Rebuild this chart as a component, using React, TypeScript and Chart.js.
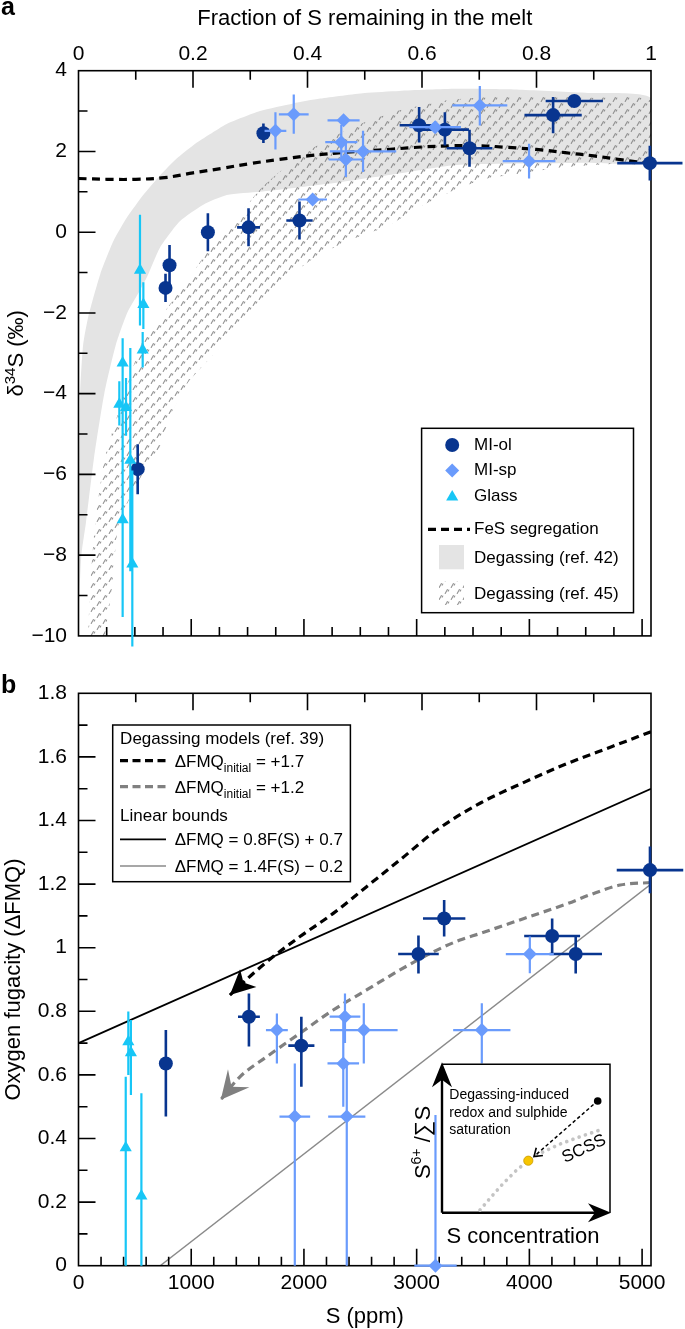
import React, { useEffect, useRef } from 'react';
import { Chart, registerables } from 'chart.js';

Chart.register(...registerables);

const FONT = "'Liberation Sans', Arial, Helvetica, sans-serif";
const DARK = '#08358f';
const LIGHT = '#6a9bfc';
const CYAN = '#17c6f6';
const BAND_GRAY = '#e4e4e4';

const W = 685;
const H_A = 660;
const H_B = 669;
const S_AT_F1 = 5079; // S (ppm) corresponding to fraction 1

// ---------------- Panel a : δ34S vs fraction of S remaining ----------------
const olFrac = [0.323, 0.595, 0.640, 0.683, 0.829, 0.866, 0.998, 0.226, 0.297, 0.386, 0.159, 0.152, 0.1034];
const olD34 = [2.45, 2.65, 2.54, 2.08, 2.90, 3.25, 1.71, 0.0, 0.12, 0.29, -0.82, -1.38, -5.87];
const olFracErr = [0.011, 0.034, 0.042, 0.04, 0.05, 0.05, 0.057, 0.01, 0.02, 0.023, 0.005, 0.005, 0.005];
const olD34Lo = [2.21, 2.22, 2.15, 1.62, 2.45, 3.13, 1.28, -0.47, -0.35, -0.18, -1.32, -1.73, -6.49];
const olD34Hi = [2.69, 3.10, 2.97, 2.54, 3.35, 3.37, 2.14, 0.47, 0.59, 0.76, -0.32, -1.03, -5.25];

const spFrac = [0.344, 0.376, 0.463, 0.459, 0.467, 0.497, 0.409, 0.623, 0.701, 0.787];
const spD34 = [2.51, 2.92, 2.77, 2.23, 1.80, 2.00, 0.81, 2.60, 3.14, 1.76];
const spFracErr = [0.019, 0.026, 0.028, 0.028, 0.03, 0.058, 0.025, 0.045, 0.048, 0.046];
const spD34Lo = [2.05, 2.44, 2.68, 1.80, 1.37, 1.49, 0.76, 2.46, 2.64, 1.33];
const spD34Hi = [2.97, 3.41, 2.86, 2.66, 2.23, 2.51, 0.86, 2.74, 3.62, 2.19];

const glFrac = [0.1074, 0.1133, 0.1121, 0.0771, 0.0713, 0.083, 0.0905, 0.0771, 0.094];
const glD34 = [-0.94, -1.79, -2.92, -3.24, -4.26, -4.34, -5.65, -7.12, -8.22];
const glD34Lo = [-2.31, -2.4, -3.35, -4.7, -4.79, -5.04, -8.4, -9.53, -10.26];
const glD34Hi = [0.43, -1.24, -2.47, -2.63, -3.69, -3.61, -2.87, -4.67, -5.9];

// FeS segregation model
const fesFrac = [0, 0.05, 0.1, 0.15, 0.2, 0.25, 0.3, 0.35, 0.4, 0.45, 0.5, 0.55, 0.6, 0.65, 0.7, 0.75, 0.8, 0.85, 0.9, 0.95, 1];
const fesD34 = [1.33, 1.31, 1.31, 1.35, 1.47, 1.58, 1.70, 1.80, 1.89, 1.96, 2.01, 2.06, 2.11, 2.14, 2.14, 2.10, 2.05, 1.97, 1.89, 1.79, 1.70];

// Degassing envelope (ref. 42)
const g42UpFrac = [0, 0.003, 0.008, 0.017, 0.038, 0.061, 0.084, 0.113, 0.142, 0.171, 0.2, 0.23, 0.259, 0.317, 0.375, 0.422, 0.5, 0.56, 0.66, 0.77, 0.89, 1];
const g42UpD34 = [-7.5, -4.0, -2.8, -2.1, -1.04, -0.22, 0.35, 0.92, 1.4, 1.82, 2.15, 2.43, 2.68, 3.0, 3.19, 3.31, 3.45, 3.5, 3.55, 3.53, 3.45, 3.32];
const g42LoFrac = [0, 0.005, 0.013, 0.027, 0.045, 0.065, 0.085, 0.105, 0.12, 0.142, 0.177, 0.218, 0.259, 0.317, 0.436, 0.557, 0.656, 0.771, 0.887, 1];
const g42LoD34 = [-9.5, -8.0, -7.2, -5.6, -4.0, -2.8, -2.0, -1.5, -1.1, -0.39, 0.27, 0.68, 0.92, 1.0, 1.2, 1.45, 1.66, 1.70, 1.72, 1.78];

// Degassing envelope (ref. 45)
const g45UpFrac = [0.017, 0.02, 0.029, 0.046, 0.081, 0.115, 0.154, 0.2, 0.23, 0.276, 0.32, 0.378, 0.436, 0.493, 0.557, 0.656, 0.771, 0.887, 1];
const g45UpD34 = [-10, -8.87, -7.24, -5.6, -3.97, -2.6, -1.9, -1.0, -0.38, 0.35, 1.1, 1.8, 2.3, 2.68, 3.0, 3.29, 3.37, 3.33, 3.25];
const g45LoFrac = [0.046, 0.058, 0.07, 0.1, 0.128, 0.141, 0.16, 0.191, 0.244, 0.29, 0.35, 0.4, 0.45, 0.5, 0.54, 0.598, 0.656, 0.713, 0.771, 0.829, 0.887, 0.945, 1];
const g45LoD34 = [-10, -8.87, -7.24, -6.3, -5.6, -5.36, -4.55, -3.73, -2.9, -2.1, -1.3, -0.75, -0.35, -0.05, 0.15, 0.64, 1.04, 1.33, 1.45, 1.58, 1.65, 1.70, 1.72];

// ---------------- Panel b : ΔFMQ vs S (ppm) ----------------
const ppmTickValues = [0, 1000, 2000, 3000, 4000, 5000];

const olS = [5070, 3244, 3016, 4202, 4411, 1512, 1977, 775];
const olFmq = [1.244, 1.092, 0.98, 1.037, 0.98, 0.783, 0.692, 0.636];
const olSErr = [295, 188, 180, 248, 233, 97, 116, 0];
const olFmqLo = [1.171, 1.035, 0.919, 0.982, 0.919, 0.689, 0.563, 0.469];
const olFmqHi = [1.318, 1.15, 1.038, 1.092, 1.035, 0.856, 0.783, 0.741];

const spS = [4004, 1760, 2364, 2531, 2349, 2380, 1919, 3578, 3167];
const spFmq = [0.98, 0.741, 0.783, 0.741, 0.636, 0.469, 0.469, 0.741, 0];
const spSErr = [213, 97, 136, 300, 140, 165, 136, 254, 188];
const spFmqLo = [0.92, 0.636, 0.7, 0.636, 0.5, 0, 0, 0.636, 0];
const spFmqHi = [1.035, 0.793, 0.856, 0.825, 0.77, 0.64, 0.636, 0.825, 0.474];

const glS = [442, 465, 419, 558];
const glFmq = [0.704, 0.67, 0.371, 0.219];
const glSErr = [0, 0, 0, 0];
const glFmqLo = [0.6, 0.537, 0, 0];
const glFmqHi = [0.799, 0.773, 0.594, 0.542];

// Degassing models (ref. 39)
const m17S = [5079, 4729, 4341, 3953, 3566, 3178, 2852, 2556, 2260, 1965, 1728, 1550, 1343];
const m17Fmq = [1.679, 1.632, 1.58, 1.52, 1.455, 1.37, 1.276, 1.192, 1.108, 1.035, 0.972, 0.919, 0.851];
const m12S = [5079, 4806, 4535, 4341, 3953, 3566, 3384, 3148, 2852, 2556, 2260, 1965, 1669, 1432, 1262];
const m12Fmq = [1.205, 1.197, 1.166, 1.139, 1.092, 1.045, 1.024, 0.987, 0.93, 0.867, 0.804, 0.731, 0.657, 0.594, 0.522];

// Linear bounds (end points)
const boundS = [0, 5079];
const upperBoundFmq = [0.7, 1.5];
const lowerBoundFmq = [-0.2, 1.2];

// ---------------- helpers ----------------
const pts = (xs: number[], ys: number[]) => xs.map((x, i) => ({ x, y: ys[i] }));

function fmt(v: number): string {
  const r = Math.round(v * 10) / 10;
  return (r < 0 ? '\u2212' : '') + String(Math.abs(r));
}

type Seg = [string, number, number];
function rich(ctx: CanvasRenderingContext2D, segs: Seg[], x: number, y: number, align: 'left' | 'center') {
  let w = 0;
  for (const [t, s] of segs) {
    ctx.font = `${s}px ${FONT}`;
    w += ctx.measureText(t).width;
  }
  let cx = align === 'center' ? x - w / 2 : x;
  ctx.textAlign = 'left';
  ctx.textBaseline = 'alphabetic';
  for (const [t, s, dy] of segs) {
    ctx.font = `${s}px ${FONT}`;
    ctx.fillText(t, cx, y + dy);
    cx += ctx.measureText(t).width;
  }
}

function text(ctx: CanvasRenderingContext2D, s: string, x: number, y: number, size: number, align: CanvasTextAlign = 'left', weight = '') {
  ctx.font = `${weight} ${size}px ${FONT}`.trim();
  ctx.textAlign = align;
  ctx.textBaseline = 'middle';
  ctx.fillStyle = '#000';
  ctx.fillText(s, x, y);
}

function marker(ctx: CanvasRenderingContext2D, style: string, x: number, y: number, r: number, color: string) {
  ctx.beginPath();
  if (style === 'circle') ctx.arc(x, y, r, 0, Math.PI * 2);
  else if (style === 'diamond') {
    ctx.moveTo(x - r, y); ctx.lineTo(x, y - r); ctx.lineTo(x + r, y); ctx.lineTo(x, y + r); ctx.closePath();
  } else {
    ctx.moveTo(x, y - r); ctx.lineTo(x + 0.866 * r, y + 0.5 * r); ctx.lineTo(x - 0.866 * r, y + 0.5 * r); ctx.closePath();
  }
  ctx.fillStyle = color;
  ctx.fill();
}

function dart(ctx: CanvasRenderingContext2D, tx: number, ty: number, ang: number, len: number, half: number, color: string, notch = 0.62) {
  const ux = Math.cos(ang), uy = Math.sin(ang);
  const nx = -uy, ny = ux;
  const bx = tx - ux * len, by = ty - uy * len;
  const mx = tx - ux * len * notch, my = ty - uy * len * notch;
  ctx.beginPath();
  ctx.moveTo(tx, ty);
  ctx.lineTo(bx + nx * half, by + ny * half);
  ctx.lineTo(mx, my);
  ctx.lineTo(bx - nx * half, by - ny * half);
  ctx.closePath();
  ctx.fillStyle = color;
  ctx.fill();
}

function makePattern(): CanvasPattern | string {
  const c = document.createElement('canvas');
  c.width = 12; c.height = 12;
  const g = c.getContext('2d');
  if (!g) return '#ccc';
  g.strokeStyle = 'rgba(128,128,128,0.85)';
  g.lineWidth = 1.1;
  g.lineCap = 'round';
  const mark = (x: number, y: number) => {
    g.beginPath(); g.moveTo(x, y + 4); g.lineTo(x + 2.2, y); g.stroke();
    g.beginPath(); g.moveTo(x + 2.9, y + 1.6); g.lineTo(x + 3.6, y + 0.5); g.stroke();
  };
  mark(1.2, 1.5);
  mark(7.2, 7.5);
  return g.createPattern(c, 'repeat') || '#ccc';
}

type TickSpec = { axis: string; side: 'top' | 'bottom' | 'left'; step: number; major: number };

function drawFrame(chart: any, specs: TickSpec[]) {
  const ctx: CanvasRenderingContext2D = chart.ctx;
  const a = chart.chartArea;
  ctx.save();
  ctx.strokeStyle = '#000';
  ctx.lineWidth = 1.6;
  ctx.setLineDash([]);
  ctx.beginPath();
  for (const t of specs) {
    const sc = chart.scales[t.axis];
    const n = Math.floor((sc.max - sc.min) / t.step + 1e-6);
    for (let i = 0; i <= n; i++) {
      const v = sc.min + i * t.step;
      if (Math.abs(v - sc.min) < 1e-9 || Math.abs(v - sc.max) < 1e-6) continue;
      const len = i % t.major === 0 ? 17 : 9;
      const p = sc.getPixelForValue(v);
      if (t.side === 'top') { ctx.moveTo(p, a.top); ctx.lineTo(p, a.top + len); }
      else if (t.side === 'bottom') { ctx.moveTo(p, a.bottom); ctx.lineTo(p, a.bottom - len); }
      else { ctx.moveTo(a.left, p); ctx.lineTo(a.left + len, p); }
    }
  }
  ctx.stroke();
  ctx.strokeRect(a.left, a.top, a.right - a.left, a.bottom - a.top);
  ctx.restore();
}

function makePlugin(specs: TickSpec[], decorate: (chart: any) => void) {
  return {
    id: 'panelDecor',
    beforeDatasetDraw(chart: any, args: any) {
      const ds = chart.data.datasets[args.index];
      const ctx: CanvasRenderingContext2D = chart.ctx;
      if (ds.frameBefore) drawFrame(chart, specs);
      if (ds.errLo) {
        const xs = chart.scales[args.meta.xAxisID];
        const ys = chart.scales[args.meta.yAxisID];
        ctx.save();
        ctx.strokeStyle = ds.errColor;
        ctx.lineWidth = ds.errWidth;
        ctx.setLineDash([]);
        ctx.beginPath();
        ds.data.forEach((p: any, i: number) => {
          const px = xs.getPixelForValue(p.x);
          const py = ys.getPixelForValue(p.y);
          const ex = ds.errX[i];
          if (ex > 0) {
            ctx.moveTo(xs.getPixelForValue(p.x - ex), py);
            ctx.lineTo(xs.getPixelForValue(p.x + ex), py);
          }
          ctx.moveTo(px, ys.getPixelForValue(ds.errLo[i]));
          ctx.lineTo(px, ys.getPixelForValue(ds.errHi[i]));
        });
        ctx.stroke();
        ctx.restore();
      }
    },
    afterDatasetDraw(chart: any, args: any) {
      const ds = chart.data.datasets[args.index];
      if (!ds.arrow) return;
      const el = args.meta.data;
      const n = el.length;
      const p1 = el[n - 2], p2 = el[n - 1];
      const ang = Math.atan2(p2.y - p1.y, p2.x - p1.x);
      chart.ctx.save();
      dart(chart.ctx, p2.x, p2.y, ang, ds.arrow.len, ds.arrow.half, ds.arrow.color, ds.arrow.notch);
      chart.ctx.restore();
    },
    afterDraw(chart: any) {
      decorate(chart);
    },
  };
}

const tickFont = { family: FONT, size: 21 };

function configA(pattern: CanvasPattern | string): any {
  const specs: TickSpec[] = [
    { axis: 'x', side: 'top', step: 0.1, major: 2 },
    { axis: 'xb', side: 'bottom', step: 250, major: 4 },
    { axis: 'y', side: 'left', step: 1, major: 2 },
  ];
  const decorate = (chart: any) => {
    const ctx: CanvasRenderingContext2D = chart.ctx;
    const a = chart.chartArea;
    ctx.save();
    ctx.fillStyle = '#000';
    ctx.font = `bold 25px ${FONT}`;
    ctx.textAlign = 'left';
    ctx.textBaseline = 'alphabetic';
    ctx.fillText('a', 1, 15);
    ctx.font = `22px ${FONT}`;
    ctx.textAlign = 'center';
    ctx.fillText('Fraction of S remaining in the melt', (a.left + a.right) / 2, 25);
    ctx.save();
    ctx.translate(22.5, (a.top + a.bottom) / 2);
    ctx.rotate(-Math.PI / 2);
    rich(ctx, [['\u03b4', 22, 0], ['34', 15, -8], ['S (\u2030)', 22, 0]], 0, 0, 'center');
    ctx.restore();

    // legend
    const L = 421.6, R = 633.5, T = 428.3, B = 612.7;
    ctx.fillStyle = '#fff';
    ctx.fillRect(L, T, R - L, B - T);
    ctx.strokeStyle = '#000';
    ctx.lineWidth = 1.5;
    ctx.strokeRect(L, T, R - L, B - T);
    const mx = 452.2, tx = 474;
    marker(ctx, 'circle', mx, 445, 7, DARK);
    text(ctx, 'MI-ol', tx, 445, 17);
    marker(ctx, 'diamond', mx, 470.5, 7, LIGHT);
    text(ctx, 'MI-sp', tx, 470.5, 17);
    marker(ctx, 'triangle', mx, 497, 7, CYAN);
    text(ctx, 'Glass', tx, 496, 17);
    ctx.strokeStyle = '#000';
    ctx.lineWidth = 3.2;
    ctx.setLineDash([8, 5]);
    ctx.beginPath(); ctx.moveTo(428, 529.3); ctx.lineTo(470, 529.3); ctx.stroke();
    ctx.setLineDash([]);
    text(ctx, 'FeS segregation', tx, 529.3, 17);
    ctx.fillStyle = BAND_GRAY;
    ctx.fillRect(439, 545, 25, 24.3);
    text(ctx, 'Degassing (ref. 42)', tx, 558.3, 17);
    ctx.fillStyle = pattern as any;
    ctx.fillRect(439, 581.7, 25, 23.3);
    text(ctx, 'Degassing (ref. 45)', tx, 594.3, 17);
    ctx.restore();
  };
  return {
    type: 'scatter',
    data: {
      datasets: [
        {
          label: 'Degassing (ref. 42)',
          data: [...pts(g42UpFrac, g42UpD34), ...pts(g42LoFrac, g42LoD34).reverse()],
          showLine: true, fill: 'shape', backgroundColor: BAND_GRAY, borderColor: 'rgba(0,0,0,0)', borderWidth: 0,
          pointRadius: 0, tension: 0.2, order: 20,
        },
        {
          label: 'Degassing (ref. 45)',
          data: [...pts(g45UpFrac, g45UpD34), ...pts(g45LoFrac, g45LoD34).reverse()],
          showLine: true, fill: 'shape', backgroundColor: pattern, borderColor: 'rgba(0,0,0,0)', borderWidth: 0,
          pointRadius: 0, tension: 0.2, order: 19,
        },
        {
          label: 'FeS segregation',
          data: pts(fesFrac, fesD34),
          showLine: true, fill: false, borderColor: '#000', borderWidth: 3.2, borderDash: [8, 5.5],
          pointRadius: 0, tension: 0.4, order: 18,
        },
        {
          label: 'MI-ol', data: pts(olFrac, olD34), pointStyle: 'circle', pointRadius: 7, pointBorderWidth: 0,
          pointBackgroundColor: DARK, backgroundColor: DARK, clip: false, order: 3, frameBefore: true,
          errX: olFracErr, errLo: olD34Lo, errHi: olD34Hi, errColor: DARK, errWidth: 2.6,
        },
        {
          label: 'MI-sp', data: pts(spFrac, spD34), pointStyle: 'rectRot', pointRadius: 7, pointBorderWidth: 0,
          pointBackgroundColor: LIGHT, backgroundColor: LIGHT, clip: false, order: 2,
          errX: spFracErr, errLo: spD34Lo, errHi: spD34Hi, errColor: LIGHT, errWidth: 2.2,
        },
        {
          label: 'Glass', data: pts(glFrac, glD34), pointStyle: 'triangle', pointRadius: 7, pointBorderWidth: 0,
          pointBackgroundColor: CYAN, backgroundColor: CYAN, clip: false, order: 1,
          errX: glFrac.map(() => 0), errLo: glD34Lo, errHi: glD34Hi, errColor: CYAN, errWidth: 2.2,
        },
      ],
    },
    options: {
      responsive: false,
      maintainAspectRatio: false,
      animation: false,
      events: [],
      layout: { padding: { left: 0, right: W - 651, top: 0, bottom: 0 } },
      plugins: { legend: { display: false }, tooltip: { enabled: false } },
      scales: {
        x: {
          type: 'linear', position: 'top', min: 0, max: 1,
          ticks: { stepSize: 0.2, includeBounds: false, autoSkip: false, maxRotation: 0, color: '#000', font: tickFont, padding: 4, callback: (v: any) => fmt(Number(v)) },
          grid: { display: false, drawTicks: false }, border: { display: false },
          afterFit: (s: any) => { s.height = 70.7; },
        },
        xb: {
          type: 'linear', position: 'bottom', min: 0, max: S_AT_F1,
          ticks: { display: false, stepSize: 1000, includeBounds: false },
          grid: { display: false, drawTicks: false }, border: { display: false },
          afterFit: (s: any) => { s.height = H_A - 642.4; },
        },
        y: {
          type: 'linear', position: 'left', min: -10, max: 4,
          ticks: { stepSize: 2, includeBounds: false, autoSkip: false, color: '#000', font: tickFont, padding: 11.5, callback: (v: any) => fmt(Number(v)) },
          grid: { display: false, drawTicks: false }, border: { display: false },
          afterFit: (s: any) => { s.width = 78.5; },
        },
      },
    },
    plugins: [makePlugin(specs, decorate)],
  };
}

function configB(): any {
  const specs: TickSpec[] = [
    { axis: 'xt', side: 'top', step: 0.1, major: 2 },
    { axis: 'x', side: 'bottom', step: 200, major: 5 },
    { axis: 'y', side: 'left', step: 0.1, major: 2 },
  ];
  const decorate = (chart: any) => {
    const ctx: CanvasRenderingContext2D = chart.ctx;
    const a = chart.chartArea;
    ctx.save();
    ctx.fillStyle = '#000';
    ctx.font = `bold 25px ${FONT}`;
    ctx.textAlign = 'left';
    ctx.textBaseline = 'alphabetic';
    ctx.fillText('b', 1, 33.3);
    text(ctx, 'S (ppm)', (a.left + a.right) / 2, 656.7, 22, 'center');
    ctx.save();
    ctx.translate(20, (a.top + a.bottom) / 2);
    ctx.rotate(-Math.PI / 2);
    ctx.fillStyle = '#000';
    rich(ctx, [['Oxygen fugacity (\u0394FMQ)', 22, 0]], 0, 0, 'center');
    ctx.restore();

    // legend
    const L = 112.7, R = 350.4, T = 65, B = 221.7;
    ctx.fillStyle = '#fff';
    ctx.fillRect(L, T, R - L, B - T);
    ctx.strokeStyle = '#000';
    ctx.lineWidth = 1.5;
    ctx.strokeRect(L, T, R - L, B - T);
    text(ctx, 'Degassing models (ref. 39)', 120.1, 79, 17);
    const rows: [number, string, number, number[], string, boolean][] = [
      [100.7, '#000', 3.2, [8, 4.5], '+1.7', true],
      [126.7, '#808080', 3.2, [8, 4.5], '+1.2', true],
      [179.3, '#000', 1.7, [], '0.8F(S) + 0.7', false],
      [206, '#8a8a8a', 1.4, [], '1.4F(S) \u2212 0.2', false],
    ];
    for (const [y, col, lw, dash, lab, initial] of rows) {
      ctx.strokeStyle = col;
      ctx.lineWidth = lw;
      ctx.setLineDash(dash);
      ctx.beginPath(); ctx.moveTo(120, y); ctx.lineTo(166, y); ctx.stroke();
      ctx.setLineDash([]);
      ctx.fillStyle = '#000';
      if (initial) rich(ctx, [['\u0394FMQ', 17, 0], ['initial', 12, 5], [' = ' + lab, 17, 0]], 174.7, y + 6, 'left');
      else rich(ctx, [['\u0394FMQ = ' + lab, 17, 0]], 174.7, y + 6, 'left');
    }
    text(ctx, 'Linear bounds', 120.1, 156, 17);

    // inset schematic
    const IL = 442, IR = 610, IT = 404.3, IB = 552.7;
    ctx.strokeStyle = '#000';
    ctx.lineWidth = 1.5;
    ctx.beginPath(); ctx.moveTo(IL, IT); ctx.lineTo(IR, IT); ctx.lineTo(IR, IB); ctx.stroke();
    ctx.lineWidth = 2.4;
    ctx.beginPath(); ctx.moveTo(IL, IB); ctx.lineTo(IL, IT + 10); ctx.moveTo(IL, IB); ctx.lineTo(IR - 10, IB); ctx.stroke();
    dart(ctx, IL, IT - 2, -Math.PI / 2, 25, 10, '#000', 0.7);
    dart(ctx, IR + 1, IB, 0, 23, 9.5, '#000', 0.7);
    const scss: [number, number][] = [[480, 550], [490, 538.3], [503.3, 523.3], [516.7, 510], [528.3, 500.7], [543.3, 491.7], [560, 484], [580, 476.7], [600, 470]];
    ctx.strokeStyle = '#c4c4c4';
    ctx.lineWidth = 3.6;
    ctx.lineCap = 'round';
    ctx.setLineDash([0.1, 6.5]);
    ctx.beginPath();
    scss.forEach(([x, y], i) => (i ? ctx.lineTo(x, y) : ctx.moveTo(x, y)));
    ctx.stroke();
    ctx.lineCap = 'butt';
    ctx.strokeStyle = '#000';
    ctx.lineWidth = 1.5;
    ctx.setLineDash([3.5, 2.5]);
    ctx.beginPath(); ctx.moveTo(593.5, 444.5); ctx.lineTo(534, 496.5); ctx.stroke();
    ctx.setLineDash([]);
    const ang = Math.atan2(496.5 - 444.5, 534 - 593.5);
    ctx.lineWidth = 1.6;
    ctx.beginPath();
    ctx.moveTo(534 - Math.cos(ang - 0.6) * 9, 496.5 - Math.sin(ang - 0.6) * 9);
    ctx.lineTo(534, 496.5);
    ctx.lineTo(534 - Math.cos(ang + 0.6) * 9, 496.5 - Math.sin(ang + 0.6) * 9);
    ctx.stroke();
    marker(ctx, 'circle', 597.7, 441, 3.8, '#000');
    marker(ctx, 'circle', 528.3, 500.7, 4.6, '#f7c500');
    ctx.strokeStyle = '#c99a00'; ctx.lineWidth = 0.8;
    ctx.beginPath(); ctx.arc(528.3, 500.7, 4.6, 0, Math.PI * 2); ctx.stroke();
    text(ctx, 'Degassing-induced', 449.3, 435, 14);
    text(ctx, 'redox and sulphide', 449.3, 453.3, 14);
    text(ctx, 'saturation', 449.3, 470, 14);
    ctx.save();
    ctx.translate(584, 489);
    ctx.rotate(-25 * Math.PI / 180);
    text(ctx, 'SCSS', 0, 0, 17, 'center');
    ctx.restore();
    text(ctx, 'S concentration', 523, 577, 22, 'center');
    ctx.save();
    ctx.translate(430, 482.5);
    ctx.rotate(-Math.PI / 2);
    ctx.fillStyle = '#000';
    rich(ctx, [['S', 22, 0], ['6+', 14, -9], [' /\u2211S', 22, 0]], 0, 0, 'center');
    ctx.restore();
    ctx.restore();
  };
  return {
    type: 'scatter',
    data: {
      datasets: [
        {
          label: 'Upper bound', data: pts(boundS, upperBoundFmq), showLine: true, fill: false,
          borderColor: '#000', borderWidth: 1.7, pointRadius: 0, order: 20,
        },
        {
          label: 'Lower bound', data: pts(boundS, lowerBoundFmq), showLine: true, fill: false,
          borderColor: '#8a8a8a', borderWidth: 1.4, pointRadius: 0, order: 19,
        },
        {
          label: 'ΔFMQ initial +1.2', data: pts(m12S, m12Fmq), showLine: true, fill: false,
          borderColor: '#808080', borderWidth: 3.2, borderDash: [8, 5], pointRadius: 0, cubicInterpolationMode: 'monotone', order: 18,
          arrow: { len: 28, half: 14, color: '#808080', notch: 0.6 },
        },
        {
          label: 'ΔFMQ initial +1.7', data: pts(m17S, m17Fmq), showLine: true, fill: false,
          borderColor: '#000', borderWidth: 3.2, borderDash: [8, 5], pointRadius: 0, cubicInterpolationMode: 'monotone', order: 17,
          arrow: { len: 25, half: 12, color: '#000', notch: 0.74 },
        },
        {
          label: 'MI-ol', data: pts(olS, olFmq), pointStyle: 'circle', pointRadius: 7, pointBorderWidth: 0,
          pointBackgroundColor: DARK, backgroundColor: DARK, clip: false, order: 3, frameBefore: true,
          errX: olSErr, errLo: olFmqLo, errHi: olFmqHi, errColor: DARK, errWidth: 2.6,
        },
        {
          label: 'MI-sp', data: pts(spS, spFmq), pointStyle: 'rectRot', pointRadius: 7, pointBorderWidth: 0,
          pointBackgroundColor: LIGHT, backgroundColor: LIGHT, clip: false, order: 2,
          errX: spSErr, errLo: spFmqLo, errHi: spFmqHi, errColor: LIGHT, errWidth: 2.2,
        },
        {
          label: 'Glass', data: pts(glS, glFmq), pointStyle: 'triangle', pointRadius: 7, pointBorderWidth: 0,
          pointBackgroundColor: CYAN, backgroundColor: CYAN, clip: false, order: 1,
          errX: glSErr, errLo: glFmqLo, errHi: glFmqHi, errColor: CYAN, errWidth: 2.2,
        },
      ],
    },
    options: {
      responsive: false,
      maintainAspectRatio: false,
      animation: false,
      events: [],
      layout: { padding: { left: 0, right: W - 651, top: 0, bottom: 0 } },
      plugins: { legend: { display: false }, tooltip: { enabled: false } },
      scales: {
        x: {
          type: 'linear', position: 'bottom', min: 0, max: S_AT_F1,
          ticks: { autoSkip: false, maxRotation: 0, color: '#000', font: tickFont, padding: 4.7, callback: (v: any) => String(Math.round(Number(v))) },
          afterBuildTicks: (s: any) => { s.ticks = ppmTickValues.map((v) => ({ value: v })); },
          grid: { display: false, drawTicks: false }, border: { display: false },
          afterFit: (s: any) => { s.height = H_B - 605.7; },
        },
        xt: {
          type: 'linear', position: 'top', min: 0, max: 1,
          ticks: { display: false, stepSize: 0.2, includeBounds: false },
          grid: { display: false, drawTicks: false }, border: { display: false },
          afterFit: (s: any) => { s.height = 33.3; },
        },
        y: {
          type: 'linear', position: 'left', min: 0, max: 1.8,
          ticks: { stepSize: 0.2, includeBounds: false, autoSkip: false, color: '#000', font: tickFont, padding: 11.5, callback: (v: any) => fmt(Number(v)) },
          grid: { display: false, drawTicks: false }, border: { display: false },
          afterFit: (s: any) => { s.width = 78.5; },
        },
      },
    },
    plugins: [makePlugin(specs, decorate)],
  };
}

export default function App() {
  const refA = useRef<HTMLCanvasElement>(null);
  const refB = useRef<HTMLCanvasElement>(null);
  useEffect(() => {
    const pattern = makePattern();
    const ca = new Chart(refA.current as HTMLCanvasElement, configA(pattern));
    const cb = new Chart(refB.current as HTMLCanvasElement, configB());
    return () => {
      ca.destroy();
      cb.destroy();
    };
  }, []);
  return (
    <div style={{ position: 'absolute', left: 0, top: 0, width: W, height: H_A + H_B, background: '#fff' }}>
      <canvas ref={refA} width={W} height={H_A} style={{ position: 'absolute', left: 0, top: 0, width: W, height: H_A }} />
      <canvas ref={refB} width={W} height={H_B} style={{ position: 'absolute', left: 0, top: H_A, width: W, height: H_B }} />
    </div>
  );
}
